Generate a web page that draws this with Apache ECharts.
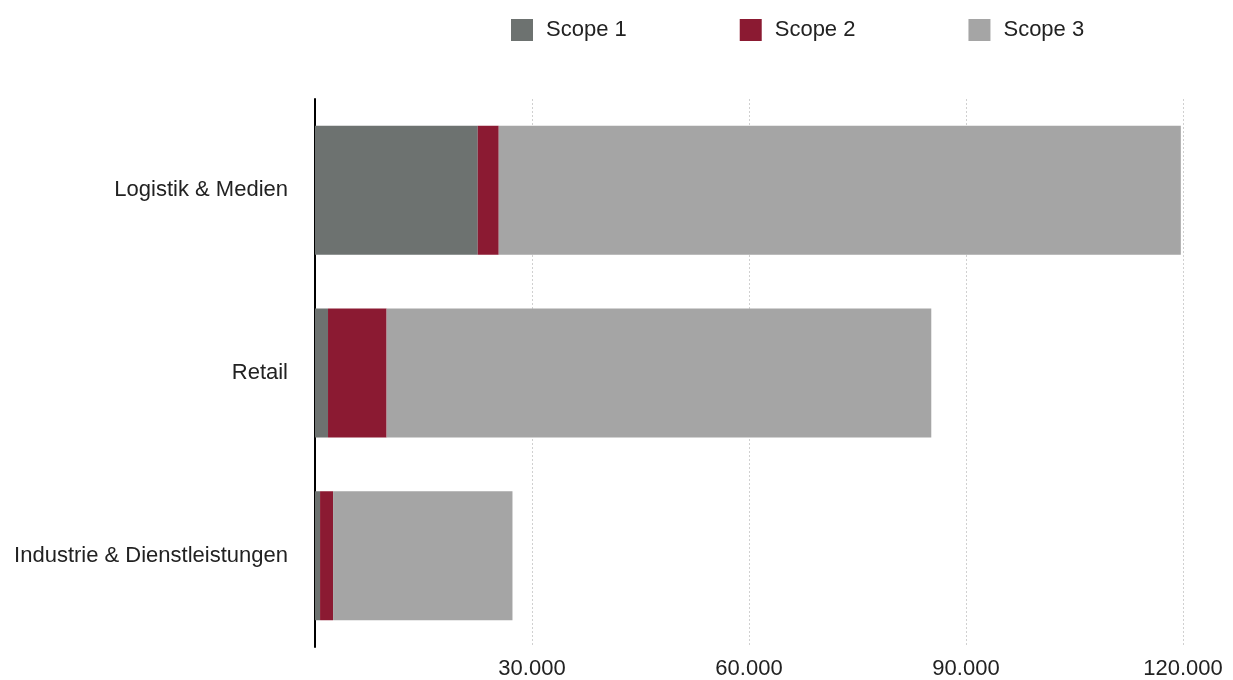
<!DOCTYPE html>
<html>
<head>
<meta charset="utf-8">
<script src="https://cdn.jsdelivr.net/npm/echarts@6/dist/echarts.min.js"></script>
<style>
html,body{margin:0;padding:0;background:#fff;}
#chart{width:1233px;height:680px;}
</style>
</head>
<body>
<div id="chart"></div>
<script>
const categories = ['Industrie & Dienstleistungen', 'Retail', 'Logistik & Medien'];
const seriesNames = ['Scope 1', 'Scope 2', 'Scope 3'];
const scope1 = [700, 1800, 22500];
const scope2 = [1800, 8100, 2900];
const scope3 = [24800, 75300, 94300];
const xTicks = [0, 30000, 60000, 90000, 120000];
const colors = ['#6d7270', '#8b1a32', '#a5a5a5'];

const font = '"Liberation Sans", Arial, Helvetica, sans-serif';
const chart = echarts.init(document.getElementById('chart'), null, {renderer: 'canvas'});
const values = [scope1, scope2, scope3];

chart.setOption({
  animation: false,
  textStyle: {fontFamily: font},
  legend: {
    left: 506, top: 14,
    itemWidth: 22, itemHeight: 22, itemGap: 113,
    icon: 'rect',
    textStyle: {fontSize: 22, color: '#222', fontFamily: font, padding: [0, 0, 0, 8]},
    data: seriesNames
  },
  grid: {left: 315, right: 50, top: 99, height: 548, containLabel: false},
  xAxis: {
    type: 'value',
    min: xTicks[0], max: xTicks[xTicks.length - 1], interval: 30000,
    axisLine: {show: false},
    axisTick: {show: false},
    splitLine: {show: true, lineStyle: {color: '#d0d0d0', type: [2, 2], width: 1}},
    axisLabel: {
      fontSize: 22, color: '#222', margin: 11, fontFamily: font,
      formatter: v => v === 0 ? '' : v.toLocaleString('de-DE')
    }
  },
  yAxis: {
    type: 'category',
    data: categories,
    axisLine: {show: true, lineStyle: {color: '#000', width: 2}},
    axisTick: {show: false},
    axisLabel: {fontSize: 22, color: '#222', margin: 27, fontFamily: font}
  },
  series: seriesNames.map((n, i) => ({
    name: n,
    type: 'bar',
    stack: 'total',
    barWidth: 129,
    itemStyle: {color: colors[i]},
    data: values[i]
  }))
});
</script>
</body>
</html>
